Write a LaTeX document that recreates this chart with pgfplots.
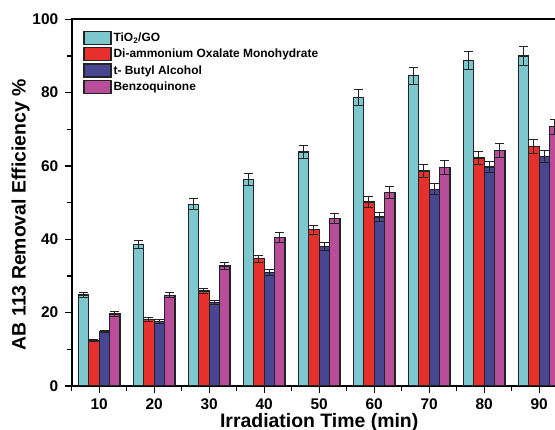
\documentclass[border=0pt]{standalone}
\usepackage{fontspec}
\setmainfont{Liberation Sans}
\usepackage{pgfplots}
\pgfplotsset{compat=1.18}
\definecolor{ccyan}{RGB}{124,200,206}
\definecolor{cred}{RGB}{230,48,43}
\definecolor{cblue}{RGB}{72,70,145}
\definecolor{cmag}{RGB}{184,78,154}
\definecolor{cedge}{RGB}{35,35,35}

\begin{document}
\begin{tikzpicture}
\begin{axis}[
  scale only axis,
  width=495bp, height=366.7bp,
  xmin=5, xmax=95, ymin=0, ymax=100,
  ybar=0pt, bar width=1.9,
  xtick={10,20,...,90}, ytick={0,20,...,100},
  minor xtick={5,15,...,95}, minor ytick={10,30,...,90},
  tick pos=left, tick align=outside,
  major tick length=7bp, minor tick length=5bp,
  every tick/.style={black, line width=1.2bp},
  axis line style={black, line width=1.6bp},
  /pgf/number format/assume math mode=true,
  tick label style={font=\fontsize{15.5}{15.5}\selectfont\bfseries},
  yticklabel style={xshift=-3bp},
  xticklabel style={yshift=-2bp},
  xlabel={Irradiation Time (min)},
  ylabel={AB 113 Removal Efficiency \%},
  label style={font=\fontsize{19.5}{19.5}\selectfont\bfseries},
  xlabel style={yshift=3bp},
  ylabel style={yshift=-4bp, xshift=-12bp},
  legend cell align=left,
  legend style={draw=none, fill=none, at={(0.023,0.969)}, anchor=north west,
    font=\fontsize{12}{12}\selectfont\bfseries, row sep=2bp, inner sep=0pt},
  legend image code/.code={\draw[#1, line width=1.3bp] (0bp,-6.5bp) rectangle (27bp,6.5bp);},
  every axis plot/.append style={draw=cedge, line width=1.3bp},
  error bars/error bar style={cedge, line width=1bp},
  error bars/error mark options={cedge, line width=1bp, rotate=90, mark size=4.5bp},
]
\addplot[fill=ccyan, error bars/.cd, y dir=both, y explicit] coordinates {
  (10,24.8) +- (0,0.8)  (20,38.6) +- (0,1.2)  (30,49.5) +- (0,1.5)
  (40,56.4) +- (0,1.6)  (50,63.8) +- (0,1.8)  (60,78.7) +- (0,2.2)
  (70,84.6) +- (0,2.3)  (80,88.7) +- (0,2.4)  (90,90.0) +- (0,2.5)
};
\addlegendentry{TiO\textsubscript{2}/GO}
\addplot[fill=cred, error bars/.cd, y dir=both, y explicit] coordinates {
  (10,12.3) +- (0,0.3)  (20,18.2) +- (0,0.5)  (30,25.9) +- (0,0.8)
  (40,34.7) +- (0,1.0)  (50,42.6) +- (0,1.2)  (60,50.2) +- (0,1.5)
  (70,58.6) +- (0,1.7)  (80,62.2) +- (0,1.8)  (90,65.4) +- (0,1.9)
};
\addlegendentry{Di-ammonium Oxalate Monohydrate}
\addplot[fill=cblue, error bars/.cd, y dir=both, y explicit] coordinates {
  (10,14.8) +- (0,0.3)  (20,17.5) +- (0,0.5)  (30,22.7) +- (0,0.6)
  (40,31.0) +- (0,0.9)  (50,38.1) +- (0,1.1)  (60,46.1) +- (0,1.3)
  (70,53.6) +- (0,1.5)  (80,59.7) +- (0,1.6)  (90,62.5) +- (0,1.6)
};
\addlegendentry{t- Butyl Alcohol}
\addplot[fill=cmag, error bars/.cd, y dir=both, y explicit] coordinates {
  (10,19.6) +- (0,0.6)  (20,24.7) +- (0,0.7)  (30,32.7) +- (0,1.0)
  (40,40.5) +- (0,1.3)  (50,45.7) +- (0,1.3)  (60,52.7) +- (0,1.6)
  (70,59.6) +- (0,1.8)  (80,64.2) +- (0,1.8)  (90,70.7) +- (0,2.0)
};
\addlegendentry{Benzoquinone}
\end{axis}
\pgfresetboundingbox
\useasboundingbox (-71.7bp,-44bp) rectangle (483.3bp,386bp);
\end{tikzpicture}
\end{document}
